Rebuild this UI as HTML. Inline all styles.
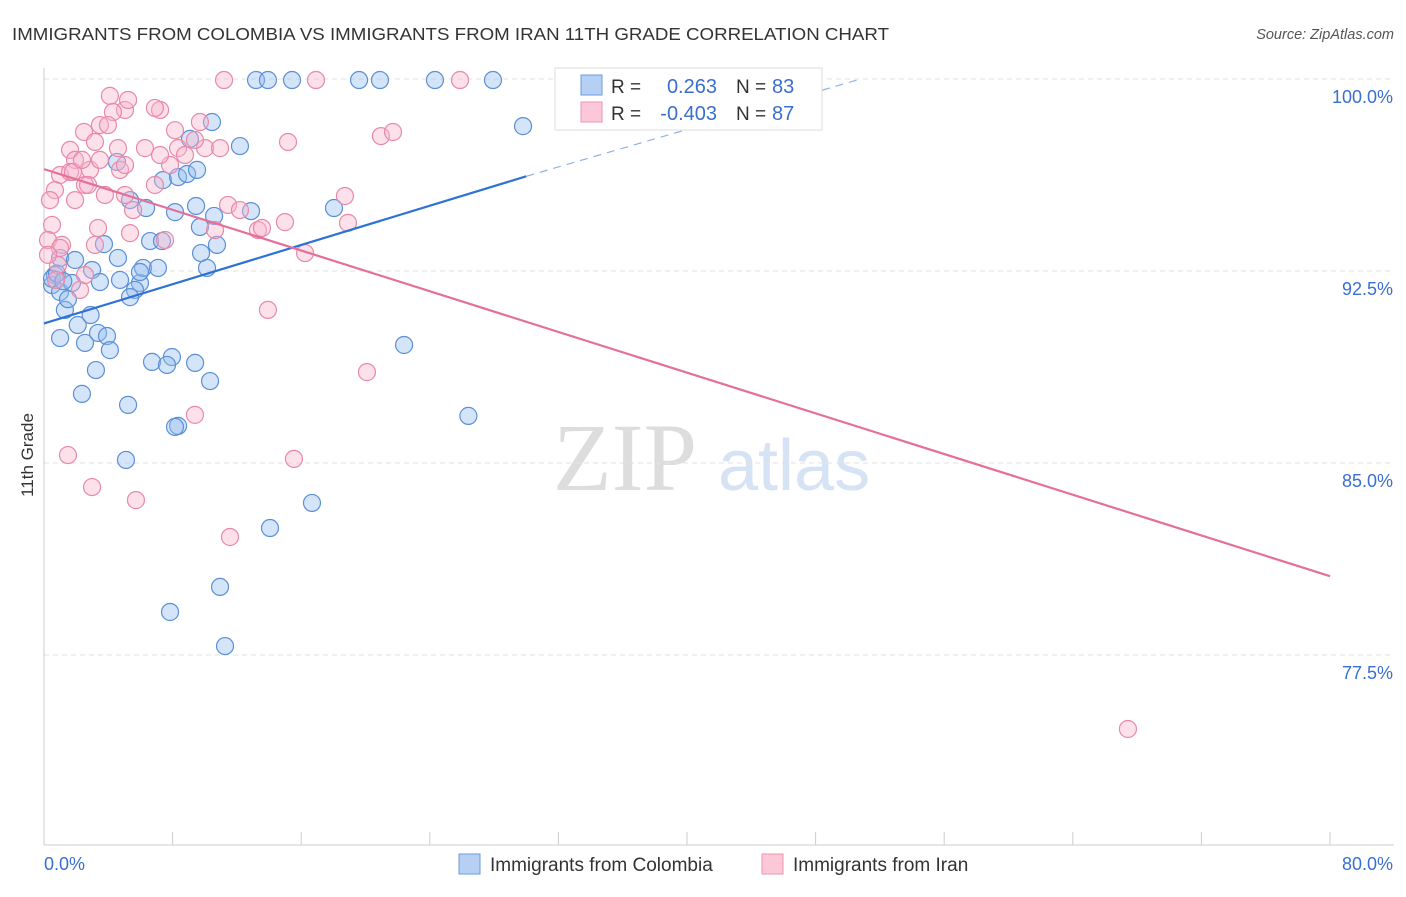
<!DOCTYPE html>
<html><head><meta charset="utf-8"><style>
body{margin:0;background:#fff;font-family:"Liberation Sans",sans-serif;}
svg text{font-family:"Liberation Sans",sans-serif;}
</style></head><body>
<svg id="c" width="1406" height="892" xmlns="http://www.w3.org/2000/svg">
<text x="12" y="40" font-size="17.5" fill="#333" textLength="877" lengthAdjust="spacingAndGlyphs">IMMIGRANTS FROM COLOMBIA VS IMMIGRANTS FROM IRAN 11TH GRADE CORRELATION CHART</text>
<text x="1394" y="39" font-size="14.5" fill="#555" font-style="italic" text-anchor="end">Source: ZipAtlas.com</text>
<text x="33" y="455" font-size="17" fill="#333" transform="rotate(-90 33 455)" text-anchor="middle">11th Grade</text>
<g>
<text x="553" y="490" font-size="96" fill="#ddd" font-family="Liberation Serif" style="font-family:'Liberation Serif',serif">ZIP</text>
<text x="718" y="490" font-size="72" fill="#d6e3f5">atlas</text>
</g>
<g id="grid"></g><g id="pts"></g><g id="trend"></g>
<g>
<rect x="555" y="68" width="267" height="62" fill="#fff" stroke="#ddd"/>
<rect x="581" y="75" width="21" height="20" fill="#b6d0f4" stroke="#6a9ae0"/>
<rect x="581" y="102" width="21" height="20" fill="#fcc8d8" stroke="#eb96b2"/>
<text x="611" y="93" font-size="19" fill="#333">R =</text><text x="717" y="93" font-size="20" fill="#3a6fd0" text-anchor="end">0.263</text>
<text x="736" y="93" font-size="19" fill="#333">N =</text><text x="772" y="93" font-size="20" fill="#3a6fd0">83</text>
<text x="611" y="120" font-size="19" fill="#333">R =</text><text x="717" y="120" font-size="20" fill="#3a6fd0" text-anchor="end">-0.403</text>
<text x="736" y="120" font-size="19" fill="#333">N =</text><text x="772" y="120" font-size="20" fill="#3a6fd0">87</text>
</g>
<g>
<rect x="459" y="854" width="21" height="20" fill="#b6d0f4" stroke="#6a9ae0"/>
<text x="490" y="871" font-size="19" fill="#333">Immigrants from Colombia</text>
<rect x="762" y="854" width="21" height="20" fill="#fcc8d8" stroke="#eb96b2"/>
<text x="793" y="871" font-size="19" fill="#333">Immigrants from Iran</text>
</g>
</svg>
<script>
const blueX=[0.68,0.5,1.0,1.3,2.1,2.9,1.0,2.55,3.36,3.92,4.1,3.23,2.36,5.23,5.1,7.84,10.95,11.26,14.06,16.67,8.34,8.15,9.4,7.96,6.72,7.65,10.33,22.4,26.4,1.0,1.93,2.99,3.48,4.73,5.97,5.66,5.35,6.16,7.09,5.97,4.6,3.73,6.6,7.34,9.77,10.76,10.14,9.7,10.58,9.46,8.15,6.35,5.35,7.4,8.34,8.9,9.52,4.54,9.08,10.45,12.19,12.88,18.04,29.8,13.19,13.93,15.43,19.6,20.9,24.32,27.93,1.74,1.49,0.5,0.8,1.2];
const blueY=[92.34,91.95,91.68,90.98,90.39,90.78,89.88,89.69,90.08,89.96,89.41,88.63,87.7,87.27,85.12,79.18,80.16,77.85,82.46,83.44,86.45,86.41,88.91,89.14,88.95,88.83,88.2,89.61,86.84,93.01,92.93,92.54,92.07,92.15,92.03,91.76,91.48,92.62,92.62,92.46,93.01,93.55,93.67,93.67,93.2,93.52,92.62,94.22,94.65,95.04,94.8,94.96,95.27,96.05,96.17,96.29,96.45,96.76,97.66,98.32,97.38,94.84,94.96,98.16,99.96,99.96,99.96,99.96,99.96,99.96,99.96,92.03,91.4,92.2,92.4,92.1];
const pinkX=[4.1,5.04,5.23,4.29,3.48,2.49,1.62,1.93,1.0,0.68,0.37,0.5,0.25,1.12,0.87,0.75,2.24,2.55,3.17,3.36,3.79,2.55,2.86,3.48,4.6,4.73,5.04,5.54,5.35,7.53,6.9,7.84,8.34,8.15,7.22,6.9,6.28,8.77,9.7,10.02,10.95,10.64,11.45,12.19,13.31,13.56,14.99,16.24,13.93,18.72,18.91,20.09,20.96,21.71,15.18,15.55,9.39,11.57,5.72,2.99,1.49,11.2,16.92,25.88,67.43,1.93,1.62,3.17,3.98,1.8,2.36,2.74,1.0,0.25,5.04,7.22,9.39];
const pinkY=[99.34,98.79,99.18,98.71,98.2,97.93,97.23,96.84,96.25,95.66,95.27,94.3,93.71,93.52,92.73,92.15,91.76,92.34,93.52,94.18,95.47,95.86,96.45,96.84,97.3,96.45,95.47,94.88,93.98,93.71,95.86,96.64,97.3,98.0,98.79,98.87,97.3,97.03,98.32,97.3,97.3,94.1,95.08,94.88,94.1,94.18,94.41,93.2,90.98,95.43,94.38,88.55,97.77,97.93,97.54,85.16,86.88,82.11,83.55,84.06,85.31,99.96,99.96,99.96,74.61,95.27,96.37,97.54,98.2,96.37,96.84,95.86,93.4,93.13,96.64,97.03,97.62];
const yTicks=[100,92.5,85,77.5];
const yTickLabels=["100.0%","92.5%","85.0%","77.5%"];
const blueTrend=[[0,90.45],[30,96.2],[50.8,100.0]];
const pinkTrend=[[0,96.48],[80,80.58]];
const X=v=>44+v*16.075, Y=v=>79+(100-v)*25.6;
const NS="http://www.w3.org/2000/svg";
function mk(tag,attrs,parent){const e=document.createElementNS(NS,tag);for(const k in attrs)e.setAttribute(k,attrs[k]);document.getElementById(parent).appendChild(e);return e;}
yTicks.forEach((t,i)=>{
 const l=mk('line',{x1:44,x2:1394,y1:Y(t),y2:Y(t),stroke:'#e2e2e2','stroke-dasharray':'5,4'},'grid');
 
 
 const tx=mk('text',{x:1393,y:Y(t)+24,'font-size':18,fill:'#3a6fd0','text-anchor':'end'},'grid');
 tx.textContent=yTickLabels[i];
 
 
});
const ax=mk('line',{x1:44,x2:44,y1:68,y2:845,stroke:'#ccc'},'grid');


const bx=mk('line',{x1:44,x2:1394,y1:845,y2:845,stroke:'#ccc'},'grid');


for(let i=0;i<=10;i++){const t=mk('line',{x1:X(i*8),x2:X(i*8),y1:832,y2:845,stroke:'#ccc'},'grid');
 
 }
[["0.0%",44,"start"],["80.0%",1393,"end"]].forEach(a=>{const t=mk('text',{x:a[1],y:870,'font-size':18,fill:'#3a6fd0','text-anchor':a[2]},'grid');t.textContent=a[0];
 
 });
blueX.forEach((v,i)=>{const c=mk('circle',{cx:X(v),cy:Y(blueY[i]),r:8.5,fill:'rgba(150,190,240,0.4)',stroke:'#5b8fd6','stroke-width':1.2},'pts');
 
 });
pinkX.forEach((v,i)=>{const c=mk('circle',{cx:X(v),cy:Y(pinkY[i]),r:8.5,fill:'rgba(248,180,205,0.4)',stroke:'#e889a8','stroke-width':1.2},'pts');
 
 });
const b1=mk('line',{x1:X(blueTrend[0][0]),y1:Y(blueTrend[0][1]),x2:X(blueTrend[1][0]),y2:Y(blueTrend[1][1]),stroke:'#2f72d6','stroke-width':2.2},'trend');


const b2=mk('line',{x1:X(blueTrend[1][0]),y1:Y(blueTrend[1][1]),x2:X(blueTrend[2][0]),y2:Y(blueTrend[2][1]),stroke:'#8fb2e6','stroke-width':1.2,'stroke-dasharray':'8,6'},'trend');


const p1=mk('line',{x1:X(pinkTrend[0][0]),y1:Y(pinkTrend[0][1]),x2:X(pinkTrend[1][0]),y2:Y(pinkTrend[1][1]),stroke:'#e4709a','stroke-width':2.2},'trend');


</script>
</body></html>
